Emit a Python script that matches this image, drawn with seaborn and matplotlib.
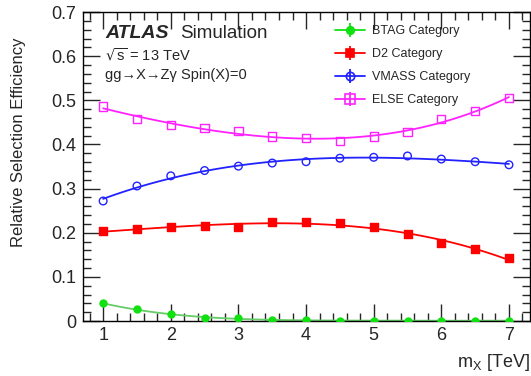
import numpy as np
import pandas as pd
import matplotlib
matplotlib.use("Agg")
import matplotlib.pyplot as plt
from matplotlib.lines import Line2D
from matplotlib.legend_handler import HandlerTuple
from matplotlib.ticker import MultipleLocator
import seaborn as sns

mass = [1.0, 1.5, 2.0, 2.5, 3.0, 3.5, 4.0, 4.5, 5.0, 5.5, 6.0, 6.5, 7.0]
btag = [0.040, 0.027, 0.015, 0.008, 0.006, 0.003, 0.002, 0.001, 0.001, 0.001, 0.001, 0.001, 0.001]
d2 = [0.204, 0.208, 0.212, 0.216, 0.214, 0.224, 0.224, 0.222, 0.212, 0.197, 0.176, 0.163, 0.142]
vmass = [0.272, 0.306, 0.329, 0.341, 0.351, 0.358, 0.361, 0.369, 0.371, 0.374, 0.367, 0.361, 0.354]
else_ = [0.486, 0.458, 0.444, 0.437, 0.431, 0.418, 0.414, 0.408, 0.418, 0.429, 0.457, 0.476, 0.505]

labels = ["BTAG Category", "D2 Category", "VMASS Category", "ELSE Category"]

sns.set_style("ticks")
plt.rcParams['font.family'] = ['Liberation Sans', 'DejaVu Sans']

fig = plt.figure(figsize=(5.31, 3.76), dpi=100)
ax = fig.add_axes([0.156, 0.146, 0.842, 0.822])

series = [
    (btag, "#11e011", "#66cc66", "o", True, 5, 4),
    (d2, "#ff0000", "#ff0000", "s", True, 5.5, 3),
    (vmass, "#2222ff", "#2222ff", "o", False, 5.5, 3),
    (else_, "#ff22ff", "#ff22ff", "s", False, 6, 4),
]

handles = []
for (vals, mc, lc, mk, filled, ms, order), lab in zip(series, labels):
    df = pd.DataFrame({"m": mass, "eff": vals})
    sns.regplot(data=df, x="m", y="eff", order=order, ci=None, scatter=False,
                ax=ax, line_kws=dict(color=lc, lw=1.3))
    sns.scatterplot(data=df, x="m", y="eff", ax=ax, marker=mk, s=ms**2,
                    facecolor=mc if filled else "none", edgecolor=mc,
                    linewidth=1.0, zorder=5)
    h = (Line2D([], [], color=mc, lw=1.3),
         Line2D([], [], color=mc, lw=0, marker="|", markersize=10, markeredgewidth=1.3),
         Line2D([], [], color=mc, lw=0, marker=mk, markersize=ms + 0.5,
                markerfacecolor=mc if filled else "none", markeredgecolor=mc, markeredgewidth=1.2))
    handles.append(h)

ax.set_xlim(0.7, 7.31)
ax.set_ylim(0, 0.7)
ax.xaxis.set_major_locator(MultipleLocator(1))
ax.xaxis.set_minor_locator(MultipleLocator(0.2))
ax.yaxis.set_minor_locator(MultipleLocator(0.02))
ax.set_yticks([0, 0.1, 0.2, 0.3, 0.4, 0.5, 0.6, 0.7])
ax.set_yticklabels(["0", "0.1", "0.2", "0.3", "0.4", "0.5", "0.6", "0.7"])
ax.tick_params(which="both", direction="in", top=True, right=True, labelsize=13, width=1)
ax.tick_params(which="major", length=12)
ax.tick_params(which="minor", length=6)
ax.tick_params(axis="x", pad=4)
ax.tick_params(axis="y", pad=5)
for s in ax.spines.values():
    s.set_linewidth(1.0)
    s.set_color("black")

ax.set_xlabel("")
ax.set_ylabel("Relative Selection Efficiency", fontsize=12)
ax.yaxis.set_label_coords(-0.128, 0.58)
fig.text(0.998, 0.008, r"m$_{\mathregular{X}}$ [TeV]", ha="right", va="bottom", fontsize=13)

ax.text(0.05, 0.93, "ATLAS", transform=ax.transAxes, fontsize=14, fontweight="bold",
        fontstyle="italic", va="center")
ax.text(0.217, 0.93, "Simulation", transform=ax.transAxes, fontsize=13.5, va="center")
ax.text(0.05, 0.86, r"$\sqrt{\mathregular{s}}$ = 13 TeV", transform=ax.transAxes, fontsize=10.5, va="center")
ax.text(0.05, 0.795, "gg\u2192X\u2192Z\u03b3 Spin(X)=0", transform=ax.transAxes, fontsize=10.5, va="center")

ax.legend(handles, labels, loc="upper left", bbox_to_anchor=(0.565, 0.958), frameon=False,
          fontsize=9, handlelength=2.4, labelspacing=0.88, handletextpad=0.55,
          borderaxespad=0, borderpad=0,
          handler_map={tuple: HandlerTuple(ndivide=1)})

fig.savefig("out.png", dpi=100)
